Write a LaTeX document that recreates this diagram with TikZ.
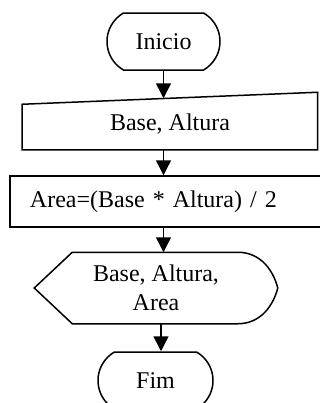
\documentclass[tikz,border=0pt]{standalone}
\usepackage{fontspec}
\setmainfont{Liberation Serif}
\usetikzlibrary{shapes.misc,arrows.meta}

\begin{document}
\begin{tikzpicture}[x=0.5pt, y=-0.5pt, line width=0.75pt,
        font=\fontsize{12}{14.5}\selectfont,
        terminal/.style={rounded rectangle, rounded rectangle arc length=120, draw, inner sep=0pt, minimum width=56.5pt, minimum height=28.5pt},
        seta/.style={-{Triangle[width=7.5pt, length=7.5pt]}}]
        \useasboundingbox (0,0) rectangle (320,403);

        \node[terminal] (inicio) at (163.5, 41.5) {Inicio};

        \node[inner sep=0pt, minimum width=147pt, minimum height=25pt] (entrada) at (170, 124) {Base, Altura};
        \draw (entrada.south west) -- (entrada.south east) -- ([yshift=3pt]entrada.north east) -- ([yshift=-3pt]entrada.north west) -- cycle;

        \node[draw, inner xsep=10pt, text width=137.5pt, align=left, minimum height=25.5pt] (processo) at (167.5, 201.5) {Area=(Base * Altura) / 2};

        \node[inner sep=0pt, minimum width=121pt, minimum height=35pt, align=center] (saida) at (156, 288) {Base, Altura,\\Area};
        \draw (saida.west) -- ([xshift=19pt]saida.north west) -- ([xshift=-20pt]saida.north east)
            .. controls ([xshift=-8pt]saida.north east) and ([xshift=-2pt, yshift=8pt]saida.east) .. (saida.east)
            .. controls ([xshift=-2pt, yshift=-8pt]saida.east) and ([xshift=-8pt]saida.south east) .. ([xshift=-20pt]saida.south east)
            -- ([xshift=19pt]saida.south west) -- cycle;

        \node[terminal, minimum width=57.5pt] (fim) at (155.5, 380.5) {Fim};

        \draw[seta] (inicio.south) -- (inicio.south |- entrada.north);
        \draw[seta] (inicio.south |- entrada.south) -- (inicio.south |- processo.north);
        \draw[seta] (inicio.south |- processo.south) -- (inicio.south |- saida.north);
        \draw[seta] ([xshift=2.5pt]saida.south) -- ([xshift=2.5pt]saida.south |- fim.north);
    \end{tikzpicture}
\end{document}
